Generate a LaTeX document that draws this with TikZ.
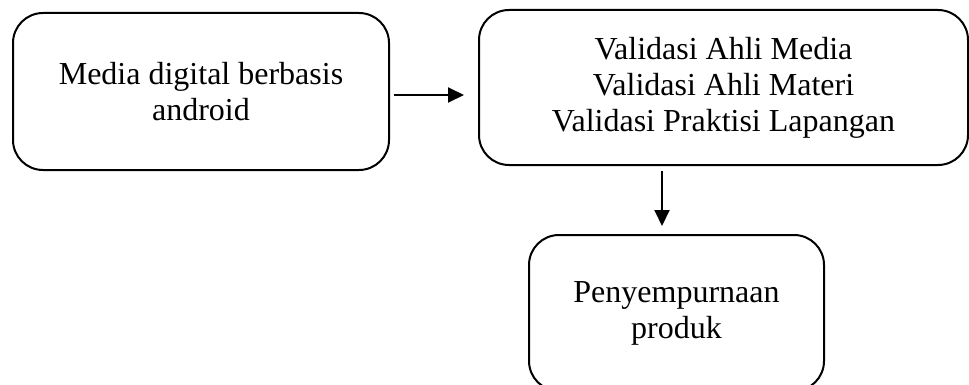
\documentclass[tikz,border=0pt]{standalone}
\usepackage{fontspec}
\setmainfont{Liberation Serif}
\usetikzlibrary{positioning, arrows.meta}

\begin{document}
\begin{tikzpicture}[kotak/.style={rectangle, 
      draw, 
      line width=1pt, 
      rounded corners=15pt, 
      align=center, 
      font=\fontsize{16}{18}\selectfont},
    panah/.style={-{Triangle[length=8pt, width=7.5pt]}, line width=1pt}]
  \useasboundingbox (0,0) rectangle (484.5pt,-192.5pt);

  \node [kotak, minimum width=188pt, minimum height=78.5pt] 
    (media) at (100.5pt,-45.75pt) {Media digital berbasis\\android};

  \node [kotak, minimum width=244.5pt, minimum height=77.5pt, 
    right=44pt of media, yshift=2pt] (validasi) {
    Validasi Ahli Media\\
    Validasi Ahli Materi\\
    Validasi Praktisi Lapangan
  };

  \node [kotak, minimum width=147.5pt, minimum height=78pt, 
    below=34pt of validasi, xshift=-23.5pt] (produk) {Penyempurnaan\\produk};

  % ALUR

  \draw[panah, shorten <=2pt, shorten >=7pt] ([yshift=-1.75pt]media.east) 
  -- ([yshift=-1.75pt]media.east -| validasi.west);

  \draw[panah, shorten <=2.5pt, shorten >=4pt] ([xshift=-7.25pt]produk.north |- validasi.south) 
  -- ([xshift=-7.25pt]produk.north);

\end{tikzpicture}
\end{document}
